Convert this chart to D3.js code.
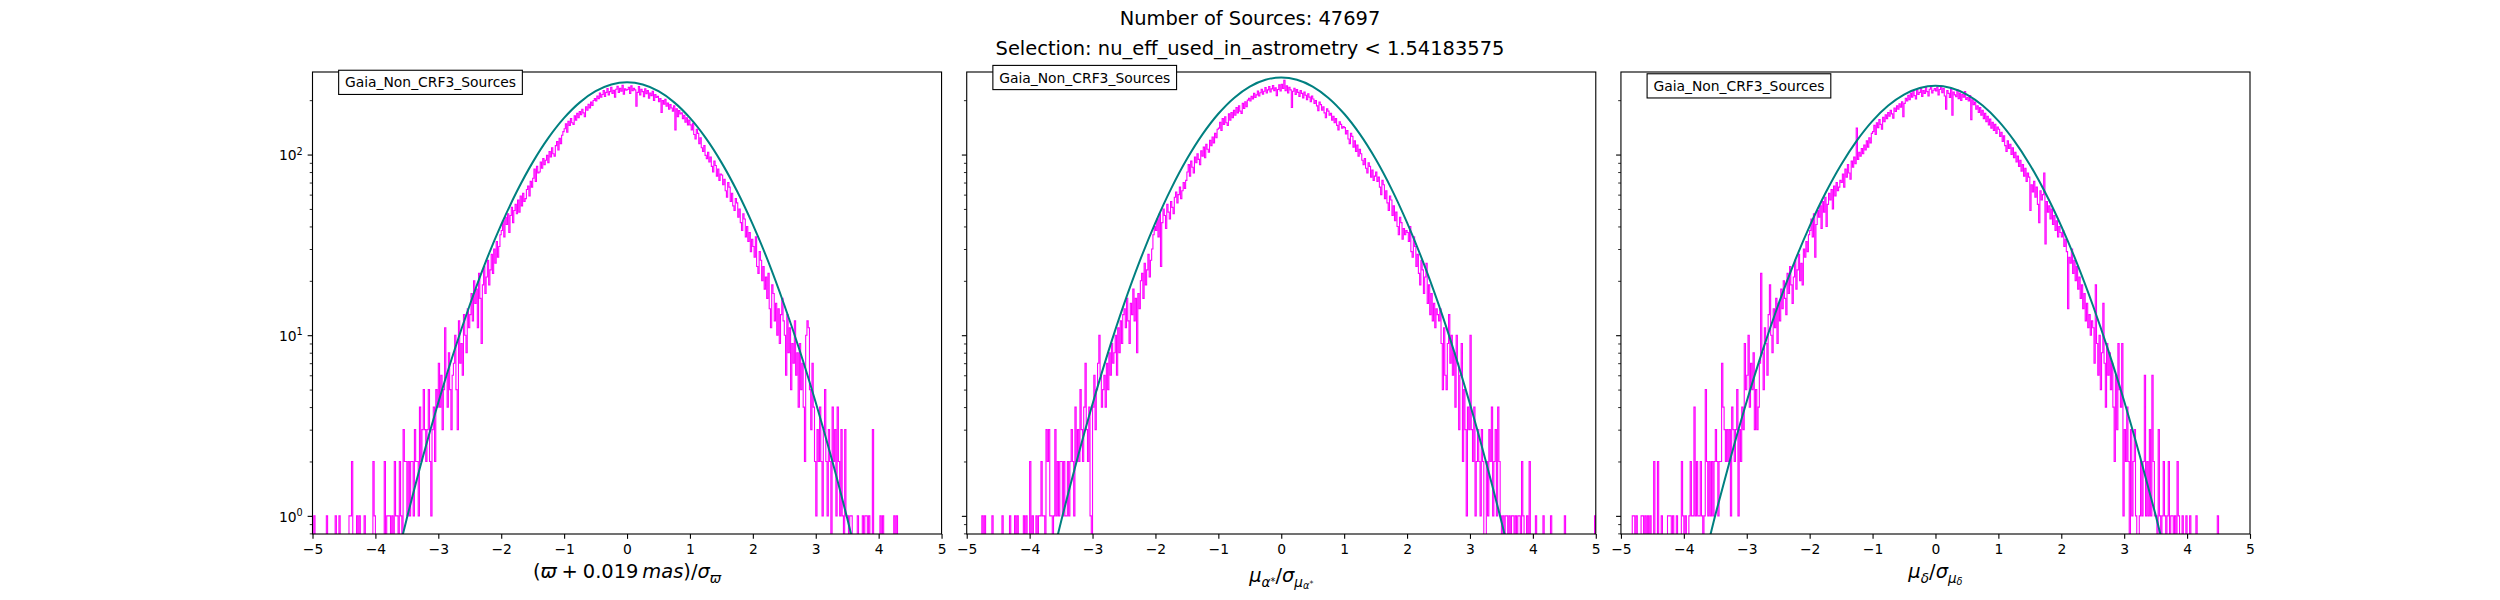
<!DOCTYPE html>
<html>
<head>
<meta charset="utf-8">
<script src="https://cdn.jsdelivr.net/npm/d3@7"></script>
<style>
  body { margin: 0; background: #fff; }
  svg { display: block; }
</style>
</head>
<body>
<div id="chart"></div>
<script>
// Normalised residual histograms (log counts) + fitted gaussians, three panels
const W = 2500, H = 600;

// ---------- data ----------
const titleLines = ["Number of Sources: 47697", "Selection: nu_eff_used_in_astrometry < 1.54183575"];
const sampleLabel = "Gaia_Non_CRF3_Sources";

// histogram bins: 500 bins of 0.02 from -5 to 5
const binStart = -5, binWidth = 0.02;

const histParallax = [
  0,1,0,0,0,0,0,0,0,0,0,1,0,0,0,0,0,0,1,0,0,1,0,0,0,
  0,0,0,0,1,1,2,0,0,0,1,0,1,0,0,0,1,0,0,0,0,0,0,2,1,
  0,0,0,0,0,0,0,2,0,1,1,1,0,1,0,2,1,1,0,2,1,0,3,2,2,
  1,2,1,2,2,1,3,2,2,1,4,2,3,5,3,2,3,5,2,1,3,4,2,5,4,
  7,4,6,3,5,11,6,4,8,5,3,6,7,10,5,3,12,7,9,6,13,10,8,14,11,
  13,17,12,20,15,18,11,22,16,9,19,24,17,21,26,19,23,28,22,30,25,33,27,31,36,
  38,43,35,45,41,47,37,46,51,42,49,53,47,56,48,59,52,61,55,57,64,67,59,71,66,
  74,83,71,86,79,80,91,84,95,88,93,99,90,104,97,109,101,98,112,118,106,123,115,128,134,
  139,148,133,153,145,158,150,147,164,155,169,160,173,166,178,170,162,184,176,190,181,195,187,199,204,
  198,211,204,219,208,215,226,210,221,232,214,223,236,218,227,208,230,239,221,233,224,242,216,231,227,
  229,236,218,240,226,233,228,185,221,238,214,230,223,209,231,217,226,205,219,212,224,199,215,207,210,
  196,204,171,199,190,202,185,193,178,189,181,174,186,137,179,162,175,168,170,158,165,151,160,146,155,
  146,137,149,129,122,138,131,115,124,109,104,112,99,95,103,91,97,86,80,92,87,76,83,72,78,
  77,68,73,63,58,70,66,55,61,52,49,57,54,45,50,42,38,47,44,35,40,33,37,29,34,
  31,27,35,24,22,29,26,20,24,18,21,16,22,14,11,19,17,12,15,10,14,9,13,16,12,
  10,6,13,8,11,5,9,7,12,6,8,4,9,5,7,4,2,10,12,11,5,3,7,4,2,
  1,3,2,4,2,1,3,5,2,1,3,2,0,4,2,3,1,4,2,1,3,1,0,3,1,
  1,0,1,1,0,0,0,0,1,0,0,0,1,0,1,1,0,1,0,0,3,0,0,0,0,
  0,1,0,1,0,0,0,0,0,0,0,0,1,0,1,0,0,0,0,0,0,0,0,0,0,
  0,0,0,0,0,0,0,0,0,0,0,0,0,0,0,0,0,0,0,0,0,0,0,0,0
];

const histPmra = [
  0,0,0,0,0,0,0,0,0,0,0,0,1,0,1,0,0,0,0,0,1,0,0,0,0,
  0,0,0,1,0,0,0,0,0,1,0,0,0,1,0,1,0,0,0,0,1,0,1,0,0,
  2,0,1,0,0,1,0,1,1,2,1,1,0,3,2,3,1,1,0,1,3,1,2,1,2,
  2,1,2,1,1,2,1,2,3,2,1,4,2,3,2,5,3,2,4,7,3,2,4,1,0,
  4,6,3,5,7,10,6,4,5,6,4,7,5,8,6,9,7,8,10,6,11,8,12,9,13,
  14,11,16,12,9,15,13,18,12,16,8,17,14,20,22,16,25,19,23,28,21,26,30,36,40,
  38,44,35,47,24,42,50,46,39,53,48,44,55,51,47,58,62,54,60,66,57,63,70,65,72,
  80,88,76,92,85,79,97,90,101,94,88,105,98,110,96,114,107,103,120,112,125,116,131,124,138,
  140,151,136,158,147,162,150,145,168,155,171,160,176,165,182,170,186,174,169,192,180,196,184,200,205,
  198,210,203,218,207,214,225,211,220,230,216,224,235,219,228,238,222,231,241,226,234,212,229,243,225,
  245,232,258,226,240,219,236,228,182,224,233,215,229,221,210,226,218,206,222,213,201,217,208,196,211,
  203,192,199,186,175,195,189,176,184,170,160,179,174,165,169,155,163,150,158,145,137,152,147,140,143,
  141,130,136,122,115,131,126,110,119,104,113,98,107,101,93,88,95,84,79,90,86,75,82,72,76,
  80,71,75,66,60,72,68,57,63,54,49,59,56,46,52,43,48,40,36,45,42,34,39,36,38,
  37,33,40,29,27,35,31,24,28,22,19,26,23,17,21,25,15,19,13,17,12,15,11,14,13,
  12,14,9,5,11,6,5,9,13,7,10,6,8,4,10,7,3,6,9,2,5,3,1,4,3,
  10,3,2,4,1,2,3,2,1,3,2,0,0,2,1,3,2,4,1,2,3,1,4,2,1,
  0,1,0,1,1,0,1,0,1,1,0,1,0,1,1,0,2,1,0,0,1,0,2,0,0,
  0,0,1,0,0,0,0,0,1,0,0,0,0,0,1,0,0,0,0,0,0,0,0,0,0,
  1,0,0,0,0,0,0,0,0,0,0,0,0,0,0,0,0,0,0,0,0,0,0,0,1
];

const histPmdec = [
  0,0,0,0,0,0,0,0,0,1,1,0,1,0,0,0,1,1,0,1,0,1,0,1,0,
  0,2,0,0,2,0,0,1,0,0,0,0,1,1,1,0,1,0,0,1,0,0,0,2,1,
  0,1,0,0,1,2,1,1,4,1,2,1,1,2,1,0,1,5,2,1,2,1,2,1,2,
  3,2,1,2,2,7,4,3,2,3,2,3,1,4,3,2,3,5,1,3,2,4,3,9,5,
  6,10,4,7,5,8,3,5,3,4,7,22,8,5,11,9,6,13,19,10,8,14,11,16,9,
  15,12,18,14,20,16,13,22,17,24,19,15,21,26,18,23,28,20,25,19,30,27,33,29,36,
  38,44,35,47,27,41,49,45,52,39,55,48,58,40,53,61,56,64,50,67,59,70,63,66,72,
  70,78,66,83,75,88,79,73,92,85,97,89,140,94,103,98,108,101,113,106,119,110,124,116,131,
  134,145,129,150,141,156,147,138,161,152,166,158,171,163,176,168,159,181,173,186,178,191,183,196,162,
  192,205,198,213,201,219,208,224,212,203,228,215,221,233,210,226,218,236,223,211,230,240,219,227,232,
  225,236,214,229,240,220,232,211,178,226,218,207,231,165,222,214,209,228,204,219,199,215,208,223,202,
  207,198,212,156,201,189,195,178,186,171,182,165,176,158,169,152,163,146,157,140,151,136,147,131,142,
  138,126,133,118,127,112,104,119,108,114,100,109,96,103,91,98,86,93,81,88,76,84,71,79,75,
  49,68,62,71,58,66,53,42,63,56,60,79,32,55,48,52,44,50,41,46,38,43,35,40,37,
  35,38,31,34,29,14,27,25,30,22,26,20,24,18,21,16,19,14,17,12,15,11,13,10,12,
  11,7,19,9,6,10,5,8,15,7,4,9,6,8,5,7,4,2,6,3,9,5,4,9,1,
  3,2,4,2,0,3,1,2,3,1,0,0,1,2,1,2,6,1,2,1,3,1,6,2,1,
  1,0,3,1,0,1,2,1,0,1,2,0,1,1,0,1,0,2,1,0,0,1,0,0,1,
  0,0,1,0,0,0,0,1,0,0,0,0,0,0,0,0,0,0,0,0,0,0,0,0,1,
  0,0,0,0,0,0,0,0,0,0,0,0,0,0,0,0,0,0,0,0,0,0,0,0,0
];

// fitted gaussian, every 0.25
const curveX = [-4,-3.75,-3.5,-3.25,-3,-2.75,-2.5,-2.25,-2,-1.75,-1.5,-1.25,-1,-0.75,-0.5,-0.25,0,
                0.25,0.5,0.75,1,1.25,1.5,1.75,2,2.25,2.5,2.75,3,3.25,3.5,3.75,4];
const fitParallax = [0.18,0.43,0.97,2.09,4.24,8.13,14.7,25.3,40.9,62.6,90.5,123.6,159.5,194.5,224.1,244.0,251,
                     244.0,224.1,194.5,159.5,123.6,90.5,62.6,40.9,25.3,14.7,8.13,4.24,2.09,0.97,0.43,0.18];
const fitPmra = [0.16,0.40,0.93,2.02,4.16,8.09,14.85,25.7,42.0,64.8,94.4,129.7,168.2,205.9,237.9,259.4,267,
                 259.4,237.9,205.9,168.2,129.7,94.4,64.8,42.0,25.7,14.85,8.09,4.16,2.02,0.93,0.40,0.16];
const fitPmdec = [0.19,0.45,1.01,2.14,4.31,8.19,14.7,25.0,40.2,61.1,87.9,119.4,153.6,186.7,214.6,233.4,240,
                  233.4,214.6,186.7,153.6,119.4,87.9,61.1,40.2,25.0,14.7,8.19,4.31,2.14,1.01,0.45,0.19];

const xDomain = [-5, 5];
const xTicks = [-5, -4, -3, -2, -1, 0, 1, 2, 3, 4, 5];
const yDomain = [0.7935, 286.4];
const yTicks = [1, 10, 100];
const yMinorTicks = [0.8, 0.9, 2, 3, 4, 5, 6, 7, 8, 9, 20, 30, 40, 50, 60, 70, 80, 90, 200];
const labelX = -4.5;

// axis labels as math pieces: t text, it italic, s size factor, b baseline shift (px, down)
const xLabelParallax = [
  {t: "("}, {t: "ϖ", it: 1}, {t: "\u2005+\u2005"}, {t: "0.019"}, {t: "\u2009"}, {t: "mas", it: 1},
  {t: ")/"}, {t: "σ", it: 1}, {t: "ϖ", it: 1, s: 0.7, b: 4.5}
];
const xLabelPmra = [
  {t: "μ", it: 1}, {t: "α", it: 1, s: 0.7, b: 4.5}, {t: "*", s: 0.5, b: 2.5}, {t: "/"}, {t: "σ", it: 1},
  {t: "μ", it: 1, s: 0.7, b: 4.5}, {t: "α", it: 1, s: 0.5, b: 7}, {t: "*", s: 0.4, b: 3.5}
];
const xLabelPmdec = [
  {t: "μ", it: 1}, {t: "δ", it: 1, s: 0.7, b: 4.5}, {t: "/"}, {t: "σ", it: 1},
  {t: "μ", it: 1, s: 0.7, b: 4.5}, {t: "δ", it: 1, s: 0.5, b: 7}
];

const panels = [
  {hist: histParallax, fit: fitParallax, xlabel: xLabelParallax, labelDy: 44},
  {hist: histPmra, fit: fitPmra, xlabel: xLabelPmra, labelDy: 48},
  {hist: histPmdec, fit: fitPmdec, xlabel: xLabelPmdec, labelDy: 44}
];

// ---------- layout ----------
const font = '"DejaVu Sans", sans-serif';
const M = {left: 312.5, right: 250, top: 72, bottom: 66};
const wspace = 0.04;
const pw = (W - M.left - M.right) / (3 + 2 * wspace);
const gap = pw * wspace;
const ph = H - M.top - M.bottom;
const tickFs = 13.89, labelFs = 19.44;

const svg = d3.select("#chart").append("svg")
  .attr("width", W).attr("height", H)
  .style("font-family", font);

const x = d3.scaleLinear().domain(xDomain).range([0, pw]);
const y = d3.scaleLog().domain(yDomain).range([ph, 0]);

// suptitle
svg.selectAll(".title").data(titleLines).join("text")
  .attr("class", "title")
  .attr("x", W / 2)
  .attr("y", (d, i) => 25 + i * 30)
  .attr("text-anchor", "middle")
  .attr("font-size", labelFs)
  .attr("fill", "#000")
  .text(d => d);

const histLine = d3.line()
  .x(d => x(d[0]))
  .y(d => d[1] > 0 ? y(d[1]) : ph + 4);

const fitLine = d3.line()
  .x((d, i) => x(curveX[i]))
  .y(d => y(d))
  .curve(d3.curveCatmullRom);

function mathText(sel, parts, size) {
  let prev = 0;
  parts.forEach(p => {
    const b = p.b || 0;
    sel.append("tspan")
      .attr("font-style", p.it ? "italic" : null)
      .attr("font-size", size * (p.s || 1))
      .attr("dy", b - prev)
      .text(p.t);
    prev = b;
  });
}

panels.forEach((p, i) => {
  const g = svg.append("g")
    .attr("transform", `translate(${M.left + i * (pw + gap)},${M.top})`);

  g.append("clipPath").attr("id", `clip${i}`)
    .append("rect").attr("width", pw).attr("height", ph);
  const plot = g.append("g").attr("clip-path", `url(#clip${i})`);

  // step histogram
  const pts = [[binStart, 0]];
  p.hist.forEach((c, k) => {
    const x0 = binStart + k * binWidth;
    pts.push([x0, c], [x0 + binWidth, c]);
  });
  pts.push([binStart + p.hist.length * binWidth, 0]);
  plot.append("path")
    .attr("d", histLine(pts))
    .attr("fill", "none")
    .attr("stroke", "#ff00ff")
    .attr("stroke-width", 1.1);

  // gaussian fit
  plot.append("path")
    .attr("d", fitLine(p.fit))
    .attr("fill", "none")
    .attr("stroke", "#008080")
    .attr("stroke-width", 2);

  // x axis
  const xa = g.append("g").attr("transform", `translate(0,${ph})`)
    .call(d3.axisBottom(x).tickValues(xTicks).tickSize(4.86).tickPadding(4.86)
      .tickFormat(d => d < 0 ? "\u2212" + Math.abs(d) : d));
  xa.attr("font-family", font).attr("font-size", tickFs);
  xa.select(".domain").remove();
  xa.selectAll("line").attr("stroke-width", 1.11);

  // y axis: major + minor
  const ya = g.append("g")
    .call(d3.axisLeft(y).tickValues(yTicks).tickSize(4.86).tickPadding(4.86));
  ya.attr("font-family", font).attr("font-size", tickFs);
  ya.select(".domain").remove();
  ya.selectAll("line").attr("stroke-width", 1.11);
  ya.selectAll("text").each(function(d) {
    const t = d3.select(this).text(null).attr("dy", "0.38em");
    if (i > 0) return;
    t.append("tspan").text("10");
    t.append("tspan").attr("font-size", tickFs * 0.7).attr("dy", "-0.6em")
      .text(Math.round(Math.log10(d)));
  });

  const ym = g.append("g")
    .call(d3.axisLeft(y).tickValues(yMinorTicks).tickSize(2.78).tickFormat(""));
  ym.select(".domain").remove();
  ym.selectAll("line").attr("stroke-width", 0.83);

  // frame
  g.append("rect")
    .attr("width", pw).attr("height", ph)
    .attr("fill", "none").attr("stroke", "#000").attr("stroke-width", 1.11);

  // sample label box at the height of the fit peak
  const lab = g.append("g");
  const txt = lab.append("text")
    .attr("x", x(labelX) + 1)
    .attr("y", y(d3.max(p.fit)))
    .attr("dy", "0.36em")
    .attr("font-size", tickFs)
    .attr("fill", "#000")
    .text(sampleLabel);
  const bb = txt.node().getBBox();
  lab.insert("rect", "text")
    .attr("x", bb.x - 6.3).attr("y", bb.y - 4.1)
    .attr("width", bb.width + 12.6).attr("height", bb.height + 8.2)
    .attr("fill", "#fff").attr("stroke", "#000").attr("stroke-width", 1.1);

  // x label
  const xl = g.append("text")
    .attr("x", pw / 2)
    .attr("y", ph + p.labelDy)
    .attr("text-anchor", "middle")
    .attr("font-size", labelFs)
    .attr("fill", "#000");
  mathText(xl, p.xlabel, labelFs);
});
</script>
</body>
</html>
